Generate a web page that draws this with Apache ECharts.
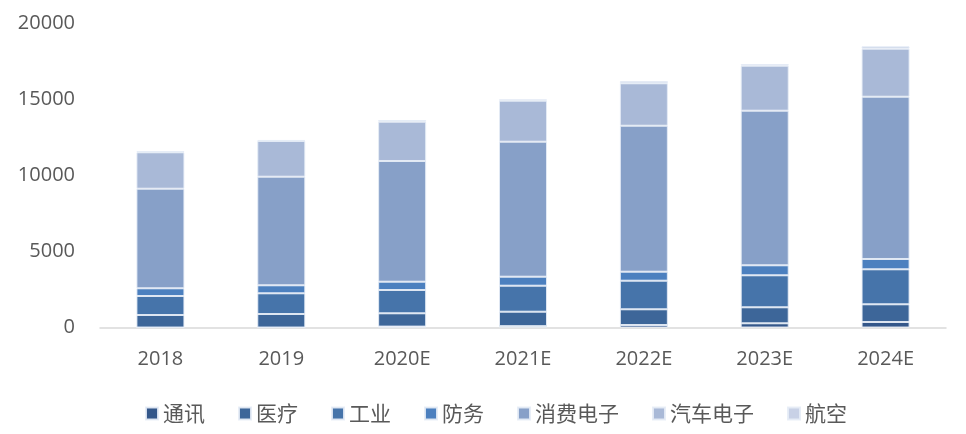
<!DOCTYPE html>
<html>
<head>
<meta charset="utf-8">
<script src="https://cdn.jsdelivr.net/npm/echarts@6/dist/echarts.min.js"></script>
<style>
html,body{margin:0;padding:0;background:#fff;}
#c{width:966px;height:434px;}
</style>
</head>
<body>
<div id="c"></div>
<script>
var categories = ['2018', '2019', '2020E', '2021E', '2022E', '2023E', '2024E'];
var seriesNames = ['通讯', '医疗', '工业', '防务', '消费电子', '汽车电子', '航空'];
var tongxun   = [0, 0, 60, 90, 164, 276, 362];
var yiliao    = [822, 888, 874, 950, 1033, 1053, 1164];
var gongye    = [1250, 1362, 1533, 1710, 1882, 2105, 2303];
var fangwu    = [507, 526, 546, 592, 592, 658, 678];
var xiaofei   = [6553, 7145, 7941, 8882, 9605, 10171, 10677];
var qiche     = [2394, 2349, 2585, 2697, 2790, 2961, 3158];
var hangkong  = [86, 70, 112, 92, 151, 112, 158];
var yTicks = [0, 5000, 10000, 15000, 20000];

var colors = ['#34578a', '#3d6699', '#4674aa', '#4c80bf', '#87a0c8', '#a9b9d7', '#c8d1e6'];
var allData = [tongxun, yiliao, gongye, fangwu, xiaofei, qiche, hangkong];

var chart = echarts.init(document.getElementById('c'));
var series = seriesNames.map(function (name, i) {
  return {
    name: name,
    type: 'bar',
    stack: 'total',
    barWidth: 48,
    data: allData[i],
    itemStyle: { color: colors[i], borderColor: 'rgba(230,236,246,0.9)', borderWidth: 1 }
  };
});

chart.setOption({
  animation: false,
  color: colors,
  grid: { left: 100, right: 20, top: 23.5, bottom: 106.5 },
  legend: {
    data: seriesNames,
    left: 140,
    top: 398,
    itemWidth: 12,
    itemHeight: 12,
    itemGap: 33,
    icon: 'rect',
    textStyle: { fontSize: 21, color: '#595959', fontFamily: 'Noto Sans CJK SC' }
  },
  xAxis: {
    type: 'category',
    data: categories,
    axisLine: { lineStyle: { color: '#d9d9d9', width: 1.5 } },
    axisTick: { show: false },
    axisLabel: { fontSize: 20, color: '#595959', margin: 22, fontFamily: 'Open Sans' }
  },
  yAxis: {
    type: 'value',
    min: yTicks[0],
    max: yTicks[yTicks.length - 1],
    interval: 5000,
    splitLine: { show: false },
    axisLine: { show: false },
    axisTick: { show: false },
    axisLabel: {
      fontSize: 20, color: '#595959', margin: 25, fontFamily: 'Open Sans',
      formatter: function (v) { return String(v); }
    }
  },
  series: series
});
</script>
</body>
</html>
